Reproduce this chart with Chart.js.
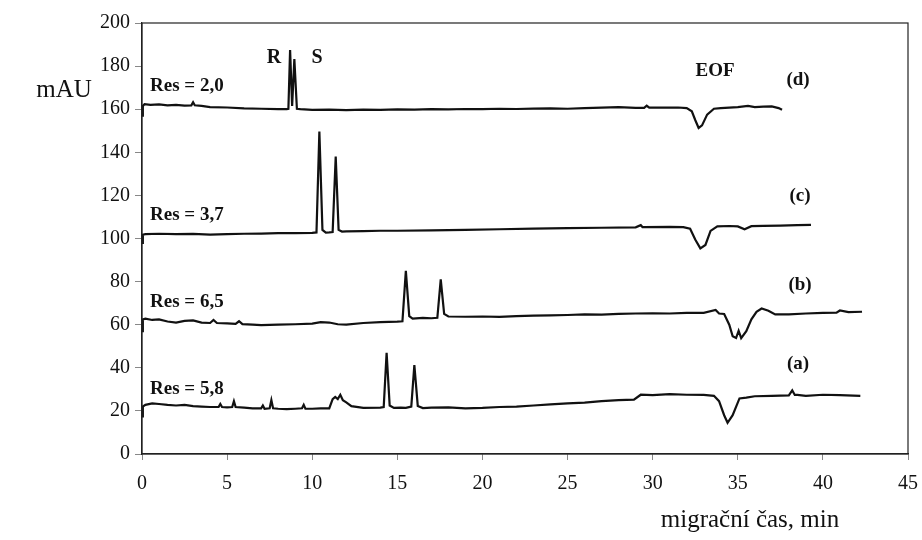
<!DOCTYPE html>
<html>
<head>
<meta charset="utf-8">
<script src="https://cdn.jsdelivr.net/npm/chart.js@4/dist/chart.umd.min.js"></script>
<style>
  html, body { margin: 0; padding: 0; background: #fff; }
  #wrap { width: 922px; height: 540px; position: relative; }
</style>
</head>
<body>
<div id="wrap"><canvas id="chart" width="922" height="540"></canvas></div>
<script>
// electropherograms, [migration time (min), absorbance (mAU)]
const traceD = [
  [0, 157], [0.05, 161.5], [0.15, 162.3], [0.5, 162], [1, 162.2], [1.5, 161.8], [2, 162], [2.5, 161.7],
  [2.9, 161.8], [3.0, 163.2], [3.1, 161.8], [3.5, 161.5], [4, 161], [5, 160.8], [6, 160.4], [7, 160.2],
  [8, 160], [8.5, 160], [8.6, 160.2], [8.7, 187.5], [8.82, 161.5], [8.95, 183.3], [9.1, 160.2], [9.3, 160],
  [10, 159.7], [11, 159.8], [12, 159.6], [13, 159.8], [14, 159.7], [15, 159.9], [16, 159.8], [17, 160],
  [18, 159.9], [19, 160.1], [20, 160], [21, 160.2], [22, 160.1], [23, 160.3], [24, 160.4], [25, 160.2],
  [26, 160.5], [27, 160.7], [28, 161], [29, 160.6], [29.5, 160.6], [29.65, 161.6], [29.8, 160.7], [30.5, 160.7],
  [31.5, 160.8], [32.0, 160.5], [32.3, 159], [32.5, 155], [32.7, 151.3], [32.9, 152.5], [33.2, 157.5], [33.6, 160.2],
  [34, 160.5], [35, 161], [35.6, 161.5], [36, 161], [36.5, 161.2], [37, 161.3], [37.4, 160.5], [37.6, 159.7]
];
const traceC = [
  [0, 98], [0.05, 101.8], [0.2, 102], [1, 102.2], [2, 102], [3, 102.1], [4, 101.8], [5, 102], [6, 102.2],
  [7, 102.3], [8, 102.5], [9, 102.5], [10, 102.6], [10.25, 102.8], [10.42, 149.6], [10.6, 104], [10.8, 102.7],
  [11.0, 102.8], [11.2, 103], [11.38, 138], [11.55, 104], [11.75, 103.2], [12, 103.3], [13, 103.4], [14, 103.6],
  [15, 103.6], [17, 103.8], [19, 104], [21, 104.3], [23, 104.6], [25, 104.8], [27, 105], [29, 105.2],
  [29.3, 106.2], [29.4, 105.3], [29.5, 105.3], [31, 105.4], [31.8, 105.3], [32.2, 104.5], [32.5, 99.5],
  [32.8, 95.4], [33.1, 97], [33.4, 103.5], [33.8, 105.6], [34.5, 105.8], [35, 105.6], [35.4, 104.3],
  [35.8, 105.7], [36.5, 105.9], [37.5, 106], [38.5, 106.2], [39.3, 106.3]
];
const traceB = [
  [0, 57], [0.05, 62.5], [0.2, 62.8], [0.6, 62.2], [1, 62.5], [1.5, 61.5], [2, 61], [2.5, 61.8], [3, 62],
  [3.5, 61], [4, 60.8], [4.2, 62.2], [4.4, 60.8], [5, 60.6], [5.5, 60.4], [5.7, 61.6], [5.9, 60.3], [6.5, 60],
  [7, 59.8], [8, 60], [9, 60.2], [10, 60.5], [10.5, 61.2], [11, 61], [11.5, 60.2], [12, 60], [13, 60.8],
  [14, 61.2], [15, 61.4], [15.3, 61.6], [15.5, 85], [15.7, 64], [15.9, 62.8], [16.5, 63.2], [17, 63],
  [17.35, 63.2], [17.55, 81], [17.75, 65], [18, 63.8], [19, 63.7], [20, 63.8], [21, 63.6], [22, 64],
  [23, 64.2], [24, 64.3], [25, 64.5], [26, 64.8], [27, 64.7], [28, 65], [29, 65.2], [30, 65.3], [31, 65.2],
  [32, 65.5], [33, 65.5], [33.7, 66.8], [33.9, 65.2], [34.2, 65], [34.5, 60], [34.7, 54.6], [34.9, 53.8],
  [35.05, 57.2], [35.2, 53.8], [35.5, 57], [35.8, 62.5], [36.1, 66], [36.4, 67.5], [36.8, 66.5], [37.2, 64.8],
  [38, 64.8], [39, 65.2], [40, 65.5], [40.8, 65.6], [41, 66.6], [41.5, 65.8], [42.3, 66]
];
const traceA = [
  [0, 17.5], [0.05, 22], [0.2, 22.8], [0.6, 23.5], [1, 23.2], [1.5, 22.8], [2, 22.5], [2.5, 22.8], [3, 22.2],
  [3.5, 22], [4, 21.8], [4.5, 21.8], [4.6, 23.2], [4.7, 21.8], [5, 21.6], [5.3, 21.8], [5.4, 24.5], [5.5, 21.8],
  [6, 21.5], [6.5, 21.2], [7, 21.2], [7.1, 22.5], [7.2, 21], [7.5, 21.2], [7.6, 25], [7.7, 21.2], [8, 21],
  [8.5, 20.8], [9, 21], [9.4, 21.2], [9.5, 22.8], [9.6, 21], [10, 21], [10.5, 21.2], [11.0, 21.2], [11.2, 25.5],
  [11.35, 26.5], [11.5, 25.5], [11.65, 27.5], [11.8, 25], [12.0, 24], [12.3, 22.2], [13, 21.4], [14, 21.5],
  [14.2, 21.8], [14.37, 47], [14.55, 22.5], [14.8, 21.4], [15.2, 21.5], [15.5, 21.4], [15.82, 22], [16.0, 41.3],
  [16.2, 22.3], [16.5, 21.3], [17, 21.5], [18, 21.6], [19, 21.2], [20, 21.4], [21, 21.8], [22, 22], [23, 22.5],
  [24, 23], [25, 23.5], [26, 23.8], [27, 24.5], [28, 25], [28.9, 25.2], [29.3, 27.5], [30, 27.3], [31, 27.8],
  [32, 27.5], [33, 27.4], [33.6, 27], [33.9, 24.5], [34.2, 18], [34.4, 14.5], [34.7, 18], [35.1, 25.8],
  [35.5, 26.2], [36, 26.8], [37, 27], [38, 27.2], [38.2, 29.5], [38.35, 27.4], [38.5, 27.4], [39, 27],
  [40, 27.5], [41, 27.3], [42.2, 27]
];

const xTicks = [0, 5, 10, 15, 20, 25, 30, 35, 40, 45];
const yTicks = [0, 20, 40, 60, 80, 100, 120, 140, 160, 180, 200];

const SERIF = '"Liberation Serif", "Times New Roman", serif';

function toPoints(pairs) {
  return pairs.map(p => ({ x: p[0], y: p[1] }));
}

function traceSet(label, pairs) {
  return {
    label: label,
    data: toPoints(pairs),
    borderColor: "#111",
    borderWidth: 2.2,
    pointRadius: 0,
    tension: 0,
    fill: false
  };
}

// frame + labels drawn on top of the plot
const decorations = {
  id: "decorations",
  afterDraw(chart) {
    const ctx = chart.ctx;
    const a = chart.chartArea;
    ctx.save();
    ctx.strokeStyle = "#222";
    ctx.lineWidth = 1.2;
    ctx.strokeRect(a.left, a.top, a.right - a.left, a.bottom - a.top);

    ctx.fillStyle = "#111";
    ctx.textBaseline = "middle";

    ctx.font = "25px " + SERIF;
    ctx.textAlign = "center";
    ctx.fillText("mAU", 64, 90);
    ctx.fillText("migrační čas, min", 750, 520);

    ctx.font = "bold 19px " + SERIF;
    ctx.textAlign = "left";
    ctx.fillText("Res = 2,0", 150, 86);
    ctx.fillText("Res = 3,7", 150, 215);
    ctx.fillText("Res = 6,5", 150, 302);
    ctx.fillText("Res = 5,8", 150, 389);

    ctx.font = "bold 20px " + SERIF;
    ctx.textAlign = "center";
    ctx.fillText("R", 274, 58);
    ctx.fillText("S", 317, 58);
    ctx.font = "bold 19px " + SERIF;
    ctx.fillText("EOF", 715, 71);
    ctx.fillText("(d)", 798, 80);
    ctx.fillText("(c)", 800, 196);
    ctx.fillText("(b)", 800, 285);
    ctx.fillText("(a)", 798, 364);
    ctx.restore();
  }
};

new Chart(document.getElementById("chart"), {
  type: "line",
  data: {
    datasets: [
      traceSet("(d)", traceD),
      traceSet("(c)", traceC),
      traceSet("(b)", traceB),
      traceSet("(a)", traceA)
    ]
  },
  options: {
    responsive: false,
    animation: false,
    layout: { padding: { top: 23, right: 14, left: 0, bottom: 0 } },
    plugins: { legend: { display: false }, tooltip: { enabled: false } },
    scales: {
      x: {
        type: "linear",
        min: 0,
        max: 45,
        afterBuildTicks: s => { s.ticks = xTicks.map(v => ({ value: v })); },
        afterFit: s => { s.height = 86; s.paddingLeft = 0; s.paddingRight = 0; },
        ticks: { color: "#111", font: { family: SERIF, size: 20 }, padding: 12, maxRotation: 0 },
        grid: { drawOnChartArea: false, drawTicks: true, tickLength: 6, color: "#888" },
        border: { display: true, color: "#222", width: 1.2 }
      },
      y: {
        type: "linear",
        min: 0,
        max: 200,
        afterBuildTicks: s => { s.ticks = yTicks.map(v => ({ value: v })); },
        afterFit: s => { s.width = 142; s.paddingTop = 0; s.paddingBottom = 0; },
        ticks: { color: "#111", font: { family: SERIF, size: 20 }, padding: 5 },
        grid: { drawOnChartArea: false, drawTicks: true, tickLength: 7, color: "#888" },
        border: { display: true, color: "#222", width: 1.2 }
      }
    }
  },
  plugins: [decorations]
});
</script>
</body>
</html>
